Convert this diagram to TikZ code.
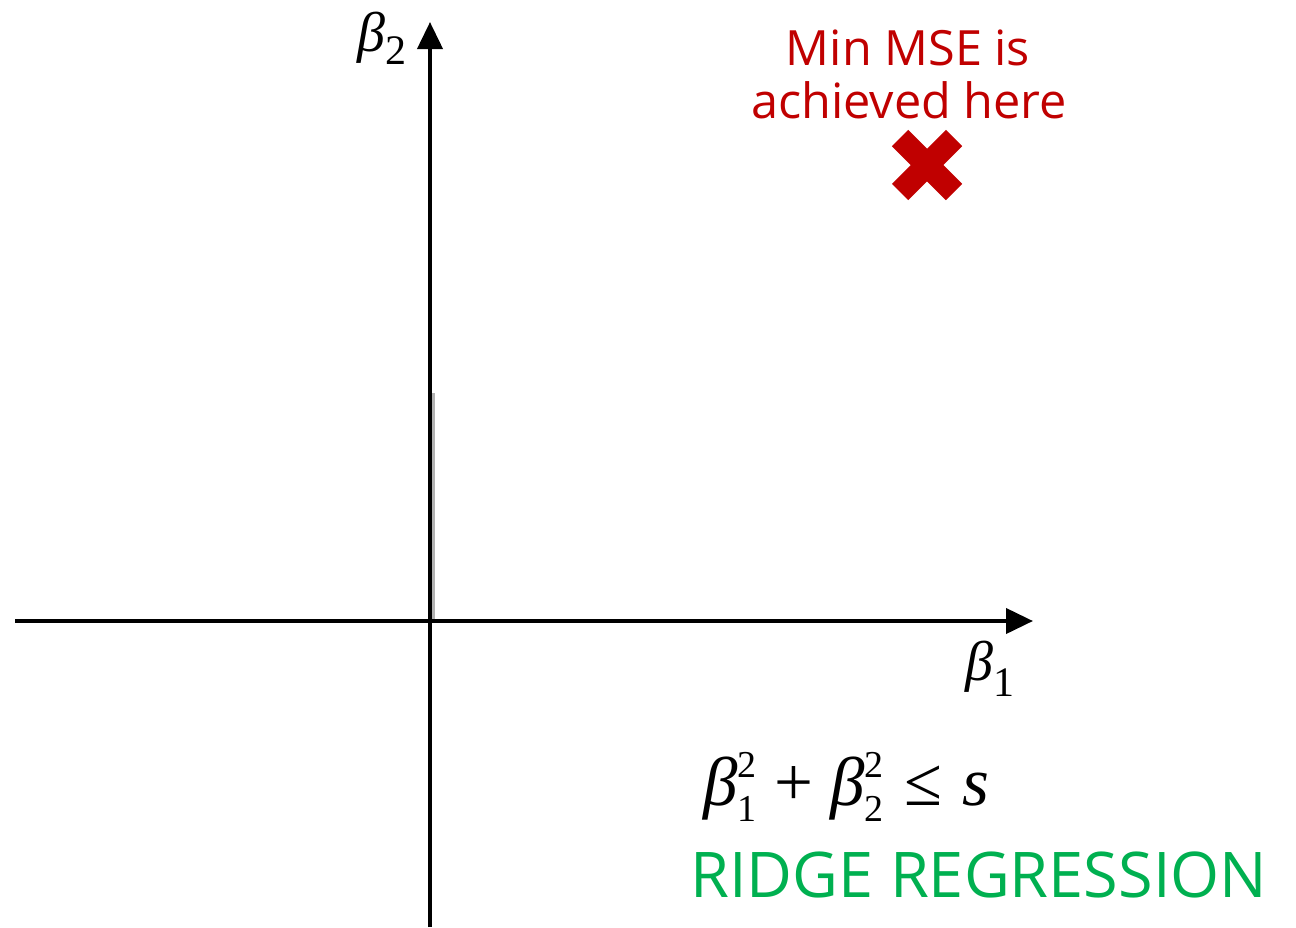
\documentclass[tikz,border=0pt]{standalone}
\usepackage{fontspec}
\usetikzlibrary{arrows.meta}
\setmainfont{Liberation Serif}
\newfontfamily\tms{Liberation Serif}
\newfontfamily\gsans{Open Sans}
\definecolor{msered}{HTML}{C00000}
\definecolor{ridgegreen}{HTML}{00B050}
\newcommand\sbsp[3]{\raisebox{-0.24em}{\fontsize{#3}{#3}\selectfont\vbox{\baselineskip=22pt\hbox{#2}\hbox{#1}}}}
\begin{document}
\begin{tikzpicture}[x=0.5pt,y=-0.5pt,
  axis/.style={line width=2pt,-{Triangle[length=13.5pt,width=12.5pt]}},
  redlbl/.style={text=msered,font=\gsans\fontsize{24.3}{26}\selectfont,inner sep=0pt,anchor=base},
  greenlbl/.style={text=ridgegreen,font=\gsans\fontsize{31.5}{32}\selectfont,inner sep=0pt,anchor=base west},
  mathlbl/.style={inner sep=0pt,anchor=base west}]
\useasboundingbox (0,0) rectangle (1296,927);
% coordinates
\coordinate (xl) at (15,621);
\coordinate (xr) at (1033,621);
\coordinate (yb) at (430,927);
\coordinate (yt) at (430,22);
\coordinate (g1) at (433,393);
\coordinate (g2) at (433,621);
% faint gray line
\draw[line width=1.5pt,black!30] (g1) -- (g2);
% axes
\draw[axis] (xl) -- (xr);
\draw[axis] (yb) -- (yt);
% labels
\node[mathlbl] (b2) at (357,51) {\tms\fontsize{28}{28}\selectfont\textit{β}\raisebox{-0.24em}{\fontsize{21}{21}\selectfont 2}};
\node[mathlbl] (b1) at (965,680) {\tms\fontsize{28}{28}\selectfont\textit{β}\raisebox{-0.30em}{\fontsize{21}{21}\selectfont 1}};
\node[mathlbl] (cons) at (703,805) {\tms\fontsize{34.5}{34.5}\selectfont\textit{β}\sbsp{1}{2}{19}\hspace{0.25em}+\hspace{0.25em}\textit{β}\sbsp{2}{2}{19}\hspace{0.3em}≤\hspace{0.3em}\textit{s}};
\node[redlbl] (min1) at (908,65) {Min MSE is};
\node[redlbl] (min2) at (909,118) {achieved here};
\node[greenlbl] (ridge) at (690,897) {RIDGE REGRESSION};
% red cross
\coordinate (c1) at (900,138);
\coordinate (c2) at (954,192);
\coordinate (c3) at (900,192);
\coordinate (c4) at (954,138);
\draw[msered,line width=11.5pt] (c1) -- (c2);
\draw[msered,line width=11.5pt] (c3) -- (c4);
\end{tikzpicture}
\end{document}
